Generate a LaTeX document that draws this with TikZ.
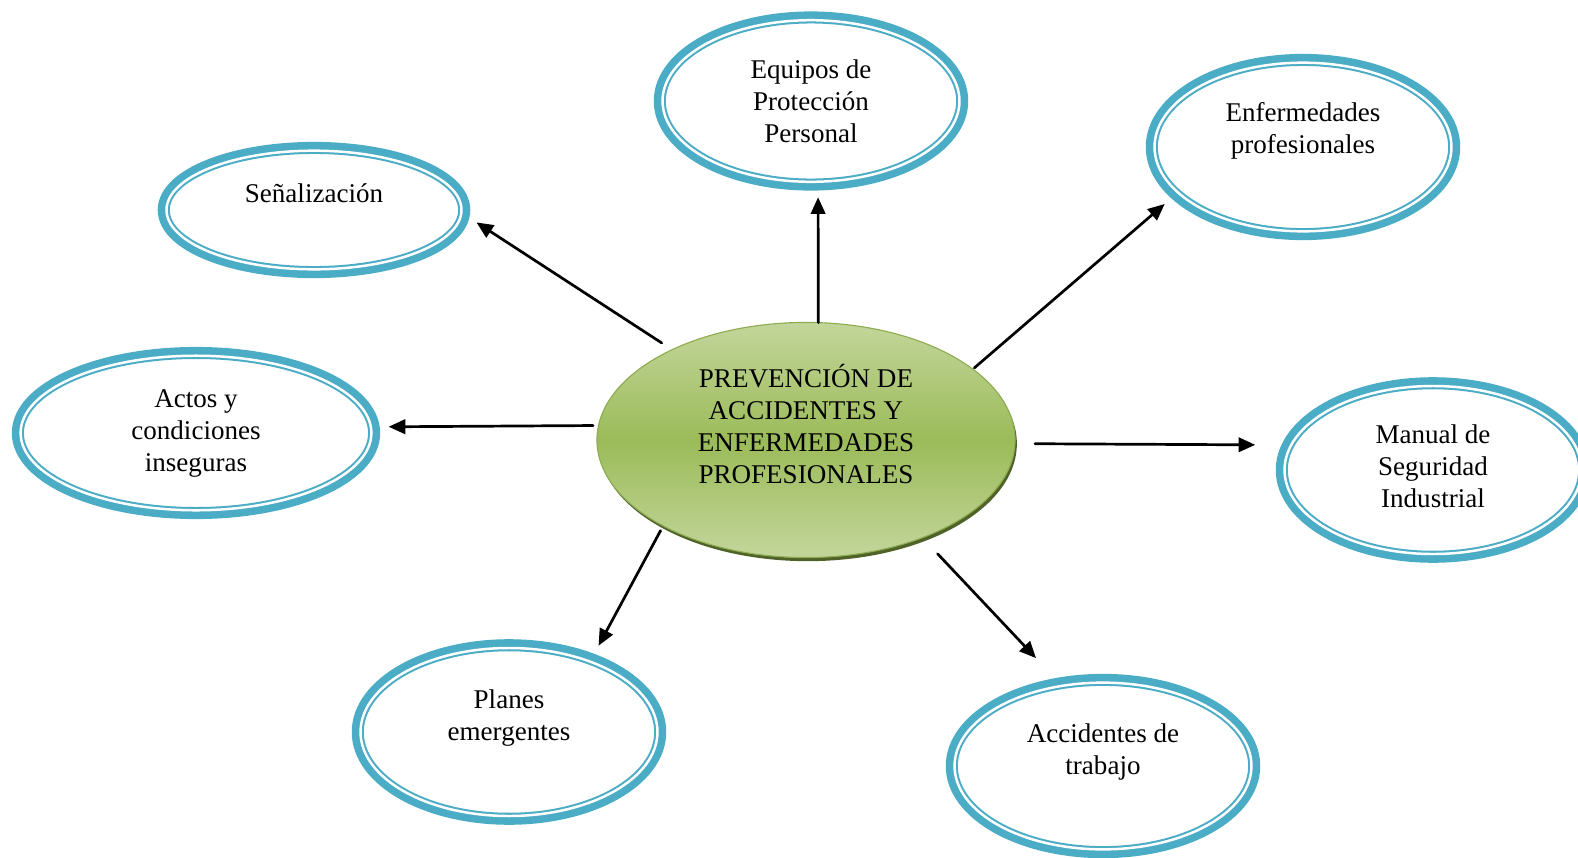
\documentclass[tikz,border=0pt]{standalone}
\usepackage{fontspec}
\setmainfont{Liberation Serif}
\usetikzlibrary{arrows.meta,shadows,shapes.geometric}

\definecolor{ringblue}{HTML}{4BACC6}
\definecolor{hubmid}{HTML}{9BBB59}
\definecolor{hublight}{HTML}{C3D69B}
\definecolor{hubdark}{HTML}{4F6228}

\begin{document}
\begin{tikzpicture}[x=0.0156cm, y=-0.0156cm, line cap=round,
  every node/.style={font=\fontsize{12}{14.2}\selectfont, align=center},
  >={Triangle[length=7.4pt,width=6.4pt]},
  conn/.style={->, line width=1.2pt},
  ring/.style={ellipse, outer sep=0pt, fill=white, draw=ringblue, line width=0.9pt,
    double=white, double distance=1.1pt,
    preaction={draw=ringblue, line width=7.8pt}},
  hub/.style={ellipse, outer sep=0pt, draw=hubmid!92!black, line width=0.5pt,
    top color=hublight, bottom color=hublight, middle color=hubmid,
    drop shadow={shadow xshift=0.8pt, shadow yshift=-1.6pt, fill=hubdark, opacity=1},
    minimum width=6.52cm, minimum height=3.65cm}]

\useasboundingbox (0,0) rectangle (1578,858);

% centre: the topic itself (trailing \\ lifts the text a little)
\node[hub] (hub) at (806,440) {PREVENCIÓN DE\\ACCIDENTES Y\\ENFERMEDADES\\PROFESIONALES\\\mbox{}};

% the seven rings round it
\node[ring, minimum width=4.6cm, minimum height=1.85cm] (senal) at (314,210) {Señalización\\[1pt]\mbox{}};
\node[ring, minimum width=4.63cm, minimum height=2.52cm] (equipos) at (811,101) {Equipos de\\Protección\\Personal};
\node[ring, minimum width=4.63cm, minimum height=2.63cm] (enferm) at (1303,147) {Enfermedades\\profesionales\\[3pt]\mbox{}};
\node[ring, minimum width=5.47cm, minimum height=2.41cm] (actos) at (196,433) {Actos y\\condiciones\\inseguras};
\node[ring, minimum width=4.63cm, minimum height=2.62cm] (manual) at (1433,470) {Manual de\\Seguridad\\Industrial\\[-11pt]\mbox{}};
\node[ring, minimum width=4.63cm, minimum height=2.62cm] (planes) at (509,732) {Planes\\emergentes\\[1pt]\mbox{}};
\node[ring, minimum width=4.63cm, minimum height=2.6cm] (accid) at (1103,766) {Accidentes de\\trabajo\\[1pt]\mbox{}};

% spokes, hub -> ring
\draw[conn, shorten <=5.5pt, shorten >=8pt] (hub.146.7) -- (senal.-1);
\draw[conn, shorten >=6.9pt] (hub.84.6) -- (equipos.-85.8);
\draw[conn, shorten <=0.9pt, shorten >=7.8pt] (hub.23) -- (enferm.-160);
\draw[conn, shorten <=2.4pt, shorten >=7.9pt] (hub.176.1) -- (actos.2.3);
\draw[conn, shorten <=8.9pt, shorten >=16pt] (hub.-1.6) -- (manual.170);
\draw[conn, shorten <=2.4pt, shorten >=8pt] (hub.-149.3) -- (planes.41.5);
\draw[conn, shorten <=9.8pt, shorten >=16.9pt] (hub.-40.5) -- (accid.117.4);

\end{tikzpicture}
\end{document}
